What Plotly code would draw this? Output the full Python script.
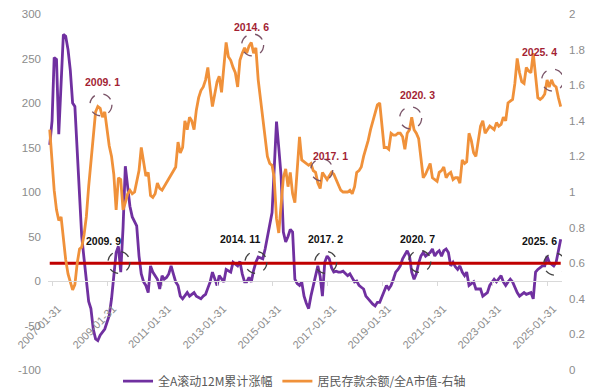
import pandas as pd
import plotly.graph_objects as go

# ---- data (monthly, 2006-12 .. 2025-07) ----
start_month = "2006-12-31"

purple_name = "全A滚动12M累计涨幅"
purple = [
    153,
    180, 251, 249, 165, 230, 277, 275, 260, 237, 200, 196, 144,
    95, 50, 25, -1, -23, -31, -54, -65, -67, -61, -58, -54,
    -46, -39, -20, 10, 32, 39, 10, 60, 129, 106, 84, 72,
    66, 62, 28, 8, -1, -5, -13, 17, 10, 6, 2, -9,
    6, 2, 4, 8, 17, 8, -1, -5, -17, -20, -16, -13,
    -17, -15, -13, -17, -19, -20, -17, -15, -8, -1, 10, 3,
    -5, 6, 2, -1, 13, 11, 10, 21, 19, 17, 22, 8,
    -1, -1, 4, -1, 12, 21, 27, 26, 25, 36, 50, 60,
    77, 125, 179, 150, 118, 55, 44, 50, 58, 55, 2, -3,
    -5, -1, -17, -25, -31, -17, -5, 6, 17, 5, -17, 21,
    28, 25, 15, 10, 11, 10, 10, 11, 8, 6, 8, 3,
    -1, 0, -5, -7, -9, -17, -20, -24, -26, -28, -24, -24,
    -18, -13, -5, -9, -5, 2, 10, 13, 17, 25, 30, 34,
    28, 10, 2, 8, 20, 28, 32, 28, 30, 32, 36, 28,
    32, 34, 28, 34, 36, 32, 17, 21, 16, 13, 17, 10,
    6, 10, -5, -3, -1, -9, -9, -9, -17, -15, -13, -5,
    -1, 2, -1, 3, 6, -1, -5, -1, 2, -1, -8, -13,
    -17, -15, -13, -15, -14, -13, -20, 10, 13, 15, 17, 17,
    28, 21, 19, 17, 21, 32, 47,
]

orange_name = "居民存款余额/全A市值-右轴"
orange = [
    1.35,
    1.18, 1.01, 0.90, 0.84, 0.86, 0.72, 0.62, 0.54, 0.49, 0.45, 0.48, 0.60,
    0.68, 0.69, 0.76, 0.86, 1.03, 1.18, 1.31, 1.45, 1.48, 1.47, 1.42, 1.45,
    1.35, 1.26, 1.20, 1.10, 0.90, 1.08, 1.07, 0.90, 0.94, 0.99, 1.01, 0.99,
    1.00, 1.06, 1.12, 1.25, 1.18, 1.09, 1.11, 0.98, 0.97, 0.99, 1.05, 1.02,
    1.01, 1.03, 1.05, 1.07, 1.10, 1.12, 1.14, 1.28, 1.22, 1.25, 1.40, 1.35,
    1.42, 1.40, 1.35, 1.46, 1.53, 1.57, 1.59, 1.63, 1.70, 1.58, 1.48, 1.55,
    1.62, 1.65, 1.56, 1.70, 1.84, 1.76, 1.74, 1.70, 1.67, 1.59, 1.74, 1.78,
    1.81, 1.78, 1.82, 1.84, 1.78, 1.81, 1.63, 1.52, 1.42, 1.33, 1.20, 1.16,
    1.15, 1.08, 0.85, 0.77, 0.92, 1.08, 1.13, 1.03, 1.11, 0.99, 0.94, 1.15,
    1.31, 1.18, 1.17, 1.16, 1.15, 1.16, 1.12, 1.11, 1.05, 1.02, 1.11, 1.09,
    1.07, 1.09, 1.11, 1.10, 1.07, 1.04, 1.01, 1.00, 1.00, 1.00, 1.01, 0.99,
    1.03, 1.11, 1.12, 1.14, 1.20, 1.24, 1.29, 1.35, 1.40, 1.45, 1.49, 1.50,
    1.37, 1.25, 1.25, 1.24, 1.33, 1.32, 1.32, 1.33, 1.33, 1.31, 1.24, 1.33,
    1.35, 1.42, 1.35, 1.33, 1.30, 1.18, 1.08, 1.10, 1.13, 1.16, 1.08, 1.07,
    1.06, 1.11, 1.12, 1.14, 1.08, 1.10, 1.11, 1.07, 1.08, 1.08, 1.05, 1.18,
    1.16, 1.17, 1.33, 1.29, 1.22, 1.20, 1.28, 1.37, 1.40, 1.33, 1.35, 1.37,
    1.36, 1.35, 1.39, 1.37, 1.38, 1.42, 1.40, 1.50, 1.51, 1.52, 1.61, 1.75,
    1.67, 1.62, 1.61, 1.70, 1.68, 1.67, 1.78, 1.65, 1.53, 1.52, 1.53, 1.55,
    1.63, 1.59, 1.63, 1.60, 1.59, 1.53, 1.48,
]

threshold_value = 20

x_tick_vals = ["2007-01-31", "2009-01-31", "2011-01-31", "2013-01-31", "2015-01-31",
               "2017-01-31", "2019-01-31", "2021-01-31", "2023-01-31", "2025-01-31"]
left_tick_vals = [-100, -50, 0, 50, 100, 150, 200, 250, 300]
left_tick_text = ["-100", "-50", "0", "50", "100", "150", "200", "250", "300"]
right_tick_vals = [0, 0.2, 0.4, 0.6, 0.8, 1, 1.2, 1.4, 1.6, 1.8, 2]
right_tick_text = ["0", "0.2", "0.4", "0.6", "0.8", "1", "1.2", "1.4", "1.6", "1.8", "2"]

# annotated points: (label, circle date, circle value, label date, label value)
orange_marks = [("2009. 1", "2008-11-10", 1.49, "2008-12-03", 1.618),
                ("2014. 6", "2014-05-18", 1.826, "2014-05-03", 1.927),
                ("2017. 1", "2016-11-21", 1.124, "2017-03-18", 1.202),
                ("2020. 3", "2020-02-15", 1.416, "2020-05-18", 1.545),
                ("2025. 4", "2025-04-15", 1.629, "2024-10-24", 1.787)]
purple_marks = [("2009. 9", "2009-07-07", 21, "2008-12-18", 45),
                ("2014. 11", "2014-06-30", 21, "2013-11-30", 47),
                ("2017. 2", "2017-01-12", 21, "2017-01-12", 47),
                ("2020. 7", "2020-06-15", 22, "2020-05-18", 47),
                ("2025. 6", "2025-05-12", 19, "2024-10-24", 45)]

dates = pd.date_range(start_month, periods=len(purple), freq="ME").strftime("%Y-%m-%d").tolist()

PURPLE = "#7030A0"
ORANGE = "#F0913A"
RED = "#C00000"
TICK = "#8C8C8C"

fig = go.Figure()
fig.add_trace(go.Scatter(x=dates, y=purple, name=purple_name, mode="lines",
                         line=dict(color=PURPLE, width=2.8), yaxis="y"))
fig.add_trace(go.Scatter(x=[dates[0], dates[-1]], y=[threshold_value, threshold_value],
                         mode="lines", line=dict(color=RED, width=3), showlegend=False, yaxis="y"))
fig.add_trace(go.Scatter(x=dates, y=orange, name=orange_name, mode="lines",
                         line=dict(color=ORANGE, width=2.8), yaxis="y2"))

shapes = []
annotations = []
for label, cx, cy, lx, ly in orange_marks:
    shapes.append(dict(type="circle", xref="x", yref="y2", xsizemode="pixel", ysizemode="pixel",
                       xanchor=cx, yanchor=cy, x0=-11, x1=11, y0=-11, y1=11,
                       line=dict(color="#7A5468", width=1.3, dash="dash")))
    annotations.append(dict(x=lx, y=ly, xref="x", yref="y2", text="<b>" + label + "</b>",
                            showarrow=False, font=dict(family="Liberation Sans", size=10.5, color="#A31F34")))
for label, cx, cy, lx, ly in purple_marks:
    shapes.append(dict(type="circle", xref="x", yref="y", xsizemode="pixel", ysizemode="pixel",
                       xanchor=cx, yanchor=cy, x0=-11, x1=11, y0=-11, y1=11,
                       line=dict(color="#404040", width=1.3, dash="dash")))
    annotations.append(dict(x=lx, y=ly, xref="x", yref="y", text="<b>" + label + "</b>",
                            showarrow=False, font=dict(family="Liberation Sans", size=10.5, color="#111111")))

fig.update_layout(
    width=594, height=390,
    margin=dict(l=48, r=32, t=14, b=20, autoexpand=False),
    paper_bgcolor="white", plot_bgcolor="white",
    font=dict(family="Liberation Sans", size=11, color=TICK),
    showlegend=True,
    legend=dict(orientation="h", x=0.4796, xanchor="center", yref="container", y=0.023, yanchor="middle",
                font=dict(family="Noto Sans CJK SC", size=12, color="#595959"),
                itemwidth=30, bgcolor="rgba(0,0,0,0)"),
    xaxis=dict(type="date", range=["2006-12-08", "2025-08-17"], anchor="free", position=0.25,
               tickvals=x_tick_vals, tickformat="%Y-%m-%d", tickangle=-45,
               showline=True, linecolor="#D9D9D9", linewidth=1,
               ticks="outside", ticklen=4, tickcolor="#D9D9D9", automargin=False,
               ticklabelshift=6, ticklabelstandoff=12,
               showgrid=False, zeroline=False, tickfont=dict(size=11, color=TICK)),
    yaxis=dict(range=[-100, 300], tickvals=left_tick_vals, ticktext=left_tick_text,
               showgrid=False, zeroline=False, showline=False, ticks="", automargin=False,
               ticklabelstandoff=6, tickfont=dict(size=11.5, color=TICK)),
    yaxis2=dict(range=[0, 2], overlaying="y", side="right", tickvals=right_tick_vals,
                ticktext=right_tick_text, showgrid=False, zeroline=False, showline=False,
                ticks="", ticklabelstandoff=6, automargin=False, tickfont=dict(size=11.5, color=TICK)),
    shapes=shapes,
    annotations=annotations,
)

fig.write_html("out.html", config={"displayModeBar": False},
               post_script="document.body.style.margin='0px';")
